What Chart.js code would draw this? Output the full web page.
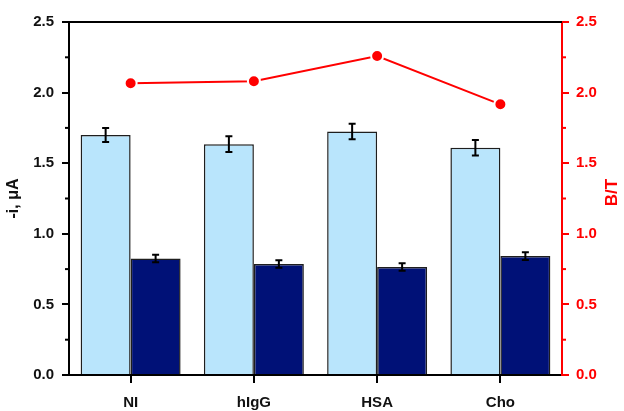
<!DOCTYPE html>
<html>
<head>
<meta charset="utf-8">
<script src="https://cdn.jsdelivr.net/npm/chart.js@4/dist/chart.umd.min.js"></script>
<style>
  html, body { margin: 0; padding: 0; background: #fff; }
  #wrap { width: 624px; height: 411px; }
</style>
</head>
<body>
<div id="wrap"><canvas id="mycanvas"></canvas></div>
<script>
// data
var categories = ['NI', 'hIgG', 'HSA', 'Cho'];
var currentA = [1.70, 1.635, 1.725, 1.61];      // light bars, -i (uA)
var currentAErr = [0.05, 0.055, 0.055, 0.055];
var currentB = [0.825, 0.786, 0.765, 0.842];    // dark bars, -i (uA)
var currentBErr = [0.027, 0.027, 0.027, 0.028];
var ratioBT = [2.066, 2.08, 2.259, 1.917];      // red line, B/T
var tickLabels = [0, 0.5, 1.0, 1.5, 2.0, 2.5];

var FONT = "'Liberation Sans', Arial, sans-serif";
var RED = '#ff0000';

// error bars, minor ticks, top frame line and right title
var extras = {
  id: 'extras',
  afterDatasetsDraw: function (chart) {
    var ctx = chart.ctx;
    var ys = chart.scales.y;
    var errs = [currentAErr, currentBErr];
    ctx.save();
    ctx.strokeStyle = '#000';
    ctx.lineWidth = 2;
    [0, 1].forEach(function (di) {
      var meta = chart.getDatasetMeta(di);
      var vals = chart.data.datasets[di].data;
      meta.data.forEach(function (bar, j) {
        var top = ys.getPixelForValue(vals[j] + errs[di][j]);
        var bot = ys.getPixelForValue(vals[j] - errs[di][j]);
        ctx.beginPath();
        ctx.moveTo(bar.x, top); ctx.lineTo(bar.x, bot);
        ctx.moveTo(bar.x - 3.5, top); ctx.lineTo(bar.x + 3.5, top);
        ctx.moveTo(bar.x - 3.5, bot); ctx.lineTo(bar.x + 3.5, bot);
        ctx.stroke();
      });
    });
    ctx.restore();
  },
  afterDraw: function (chart) {
    var ctx = chart.ctx;
    var a = chart.chartArea;
    var yl = chart.scales.y, yr = chart.scales.y2;
    ctx.save();
    ctx.lineWidth = 2;
    ctx.strokeStyle = '#000';
    ctx.beginPath();
    ctx.moveTo(a.left, a.top); ctx.lineTo(a.right, a.top);
    ctx.stroke();
    for (var v = 0.25; v < 2.5; v += 0.5) {
      var py = yl.getPixelForValue(v);
      ctx.strokeStyle = '#000';
      ctx.beginPath(); ctx.moveTo(a.left - 4, py); ctx.lineTo(a.left, py); ctx.stroke();
      var pr = yr.getPixelForValue(v);
      ctx.strokeStyle = RED;
      ctx.beginPath(); ctx.moveTo(a.right, pr); ctx.lineTo(a.right + 4, pr); ctx.stroke();
    }
    // right axis title, reading bottom to top
    ctx.translate(yr.right - 12, (a.top + a.bottom) / 2 - 6);
    ctx.rotate(-Math.PI / 2);
    ctx.fillStyle = RED;
    ctx.font = 'bold 17px ' + FONT;
    ctx.textAlign = 'center';
    ctx.textBaseline = 'middle';
    ctx.fillText('B/T', 0, 0);
    ctx.restore();
  }
};

var chartdata = {
  labels: categories,
  datasets: [
    {
      type: 'bar',
      data: currentA,
      backgroundColor: '#b9e5fc',
      borderColor: '#1e1e1e',
      borderWidth: 1.5,
      yAxisID: 'y',
      order: 2
    },
    {
      type: 'bar',
      data: currentB,
      backgroundColor: '#001177',
      borderColor: '#1e1e1e',
      borderWidth: 1.5,
      yAxisID: 'y',
      order: 2
    },
    {
      type: 'line',
      data: ratioBT,
      borderColor: RED,
      borderWidth: 2,
      pointRadius: 6,
      pointBackgroundColor: RED,
      pointBorderColor: '#fff',
      pointBorderWidth: 2,
      yAxisID: 'y2',
      order: 1
    }
  ]
};

var ctx1 = document.getElementById('mycanvas');
var chart = new Chart(ctx1, {
  type: 'bar',
  data: chartdata,
  plugins: [extras],
  options: {
    responsive: true,
    maintainAspectRatio: false,
    animation: false,
    layout: { padding: { top: 22, left: 0, right: 0, bottom: 0 } },
    plugins: { legend: { display: false }, tooltip: { enabled: false } },
    datasets: { bar: { categoryPercentage: 0.811, barPercentage: 1.0 } },
    scales: {
      x: {
        grid: { offset: false, drawOnChartArea: false, tickLength: 8, color: '#000', lineWidth: 2 },
        border: { display: true, color: '#000', width: 2 },
        ticks: { color: '#111', padding: 11, font: { family: FONT, size: 15, weight: 'bold' } },
        afterFit: function (s) { s.height = 36; }
      },
      y: {
        position: 'left',
        min: 0, max: 2.5,
        afterBuildTicks: function (s) { s.ticks = tickLabels.map(function (v) { return { value: v }; }); },
        grid: { drawOnChartArea: false, tickLength: 7, color: '#000', lineWidth: 2 },
        border: { display: true, color: '#000', width: 2 },
        ticks: {
          color: '#111', padding: 8,
          font: { family: FONT, size: 15, weight: 'bold' },
          callback: function (v) { return Number(v).toFixed(1); }
        },
        title: {
          display: true, text: '-i, \u03bcA', color: '#111',
          font: { family: FONT, size: 16, weight: 'bold' },
          padding: { top: 4, bottom: 0 }
        },
        afterFit: function (s) { s.width = 69; }
      },
      y2: {
        position: 'right',
        min: 0, max: 2.5,
        afterBuildTicks: function (s) { s.ticks = tickLabels.map(function (v) { return { value: v }; }); },
        grid: { drawOnChartArea: false, tickLength: 7, color: RED, lineWidth: 2 },
        border: { display: true, color: RED, width: 2 },
        ticks: {
          color: RED, padding: 7,
          font: { family: FONT, size: 15, weight: 'bold' },
          callback: function (v) { return Number(v).toFixed(1); }
        },
        afterFit: function (s) { s.width = 62; }
      }
    }
  }
});
</script>
</body>
</html>
